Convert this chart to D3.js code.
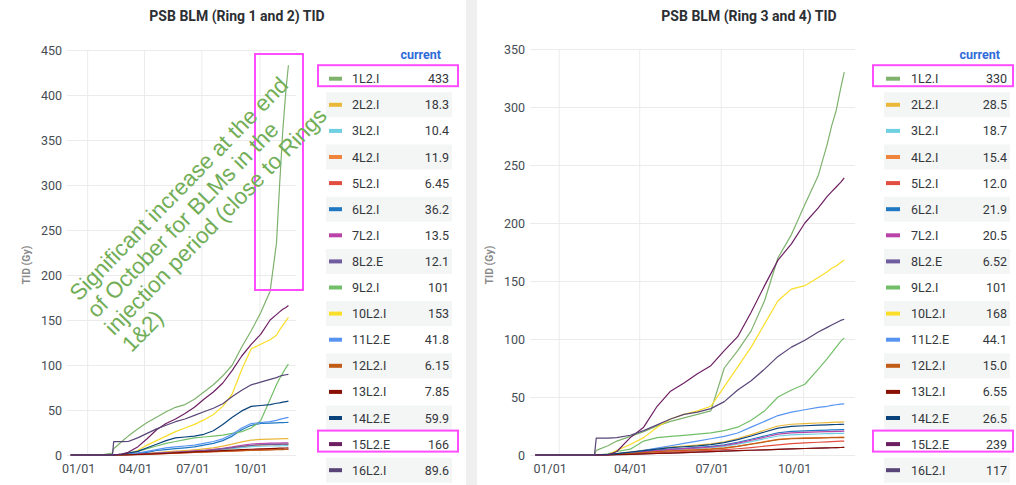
<!DOCTYPE html>
<html>
<head>
<meta charset="utf-8">
<script src="https://cdn.jsdelivr.net/npm/d3@7"></script>
<style>
  html, body { margin: 0; padding: 0; background: #ffffff; }
  svg { display: block; font-family: Roboto, "Liberation Sans", Arial, sans-serif; }
</style>
</head>
<body>
<svg id="chart" width="1016" height="485"></svg>
<script>
// Sample dates shared by every BLM series
const sampleDates = ["2022-12-06","2023-01-01","2023-01-21","2023-02-10","2023-02-12","2023-02-25","2023-03-07",
  "2023-03-22","2023-04-06","2023-04-21","2023-05-06","2023-05-21","2023-06-05","2023-06-20","2023-07-05",
  "2023-07-20","2023-08-04","2023-08-19","2023-09-03","2023-09-18","2023-10-03","2023-10-18","2023-10-28",
  "2023-11-02","2023-11-07","2023-11-12","2023-11-16"];

const timeRange = ["2022-11-30", "2023-11-28"];
const dateTicks = ["2023-01-01", "2023-04-01", "2023-07-01", "2023-10-01"];

const monitorNames = ["1L2.I","2L2.I","3L2.I","4L2.I","5L2.I","6L2.I","7L2.I","8L2.E",
  "9L2.I","10L2.I","11L2.E","12L2.I","13L2.I","14L2.E","15L2.E","16L2.I"];
const monitorColors = ["#7eb26d","#eab839","#6ed0e0","#ef843c","#e24d42","#1f78c1","#ba43a9","#705da0",
  "#73bf69","#fade2a","#5794f2","#c15c17","#890f02","#0a437c","#6d1f62","#584477"];
const highlighted = ["1L2.I", "15L2.E"];

// Ring 1 and 2 — accumulated dose (Gy)
const r12_1L2I  = [0,0,0,2,7,15,21,29,36,42,48,53,56,62,70,78,88,100,120,138,158,182,235,300,360,405,433];
const r12_2L2I  = [0,0,0,0,0,0.2,0.5,1,1.8,2.6,3.4,4.2,5,5.8,6.8,8,9.8,12,14.5,16.5,17.3,17.7,17.9,18,18.1,18.2,18.3];
const r12_3L2I  = [0,0,0,0,0,0.1,0.3,0.6,1,1.5,2,2.5,3,3.5,4.1,4.8,5.8,7,8.3,9.3,9.8,10,10.1,10.2,10.3,10.35,10.4];
const r12_4L2I  = [0,0,0,0,0,0.1,0.4,0.8,1.3,1.8,2.4,3,3.5,4.1,4.8,5.6,6.8,8.2,9.6,10.7,11.2,11.5,11.6,11.7,11.8,11.85,11.9];
const r12_5L2I  = [0,0,0,0,0,0.1,0.3,0.6,0.9,1.3,1.7,2.1,2.5,2.9,3.3,3.7,4.1,4.5,4.9,5.3,5.6,5.9,6.1,6.2,6.3,6.4,6.45];
const r12_6L2I  = [0,0,0,0,0,0,1,2,3,5,6,7,8,9,11,13,16,21,28,33,35,35.5,35.8,36,36,36.1,36.2];
const r12_7L2I  = [0,0,0,0,0,0.2,0.5,0.9,1.5,2.1,2.7,3.3,3.9,4.5,5.3,6.2,7.5,9,10.8,12.2,12.8,13.1,13.2,13.3,13.4,13.45,13.5];
const r12_8L2E  = [0,0,0,0,0,0.1,0.4,0.8,1.3,1.8,2.4,3,3.5,4,4.7,5.5,6.7,8.1,9.6,10.8,11.4,11.7,11.8,11.9,12,12.05,12.1];
const r12_9L2I  = [0,0,0,0,0,1,2,4,7,10,13,15,17,19,20,21,22,24,26,30,38,62,78,85,91,97,101];
const r12_10L2I = [0,0,0,0,0,0,1,5,11,16,21,26,30,34,39,45,54,68,95,118,123,128,133,139,144,149,153];
const r12_11L2E = [0,0,0,0,0,0,1,2,4,6,8,9,10,11,13,15,18,23,30,35,36,37,38.5,39.5,40.5,41.2,41.8];
const r12_12L2I = [0,0,0,0,0,0.1,0.3,0.5,0.8,1.2,1.6,2,2.4,2.8,3.2,3.6,4,4.4,4.8,5.2,5.5,5.8,5.95,6,6.05,6.1,6.15];
const r12_13L2I = [0,0,0,0,0,0.1,0.3,0.6,1,1.4,1.9,2.4,2.9,3.4,3.9,4.4,4.9,5.4,5.9,6.4,6.8,7.2,7.4,7.55,7.65,7.75,7.85];
const r12_14L2E = [0,0,0,0,0,1,2,4,8,12,16,19,20,21,23,27,34,42,49,54,55,56,57.5,58,58.8,59.4,59.9];
const r12_15L2E = [0,0,0,0,0,1,3,9,18,28,35,40,46,53,62,70,80,94,110,123,134,150,156,159,162,164,166];
const r12_16L2I = [0,0,0,0,14.8,14.8,15,19,24,29,33,37,40,44,48,52,57,65,72,78,81,84,86,87.5,88.5,89.2,89.6];

// Ring 3 and 4 — accumulated dose (Gy)
const r34_1L2I  = [0,0,0,0,4,8,12,16,20,25,29,32,35,38,75,90,107,133,170,190,216,241,268,284,297,316,330];
const r34_2L2I  = [0,0,0,0,0,0.5,1.3,2.6,4,5.5,6.8,7.6,8.5,9.6,11.4,14.2,17.6,21.3,25,26.5,27.1,27.6,27.9,28.1,28.3,28.4,28.5];
const r34_3L2I  = [0,0,0,0,0,0.4,0.9,1.8,2.7,3.6,4.4,5,5.6,6.3,7.5,9.3,11.6,14,16.4,17.4,17.8,18.1,18.4,18.5,18.6,18.65,18.7];
const r34_4L2I  = [0,0,0,0,0,0.3,0.8,1.5,2.2,3,3.6,4.1,4.6,5.2,6.2,7.7,9.5,11.5,13.5,14.3,14.7,14.9,15.1,15.2,15.3,15.35,15.4];
const r34_5L2I  = [0,0,0,0,0,0.2,0.5,1,1.5,2,2.5,3,3.5,4,4.6,5.4,6.4,7.6,8.8,9.8,10.5,11,11.4,11.6,11.8,11.9,12];
const r34_6L2I  = [0,0,0,0,0,0.4,1,2,3.1,4.2,5.1,5.8,6.5,7.4,8.8,11,13.6,16.4,19.2,20.3,20.8,21.2,21.5,21.6,21.7,21.8,21.9];
const r34_7L2I  = [0,0,0,0,0,0.4,1,1.9,2.9,3.9,4.8,5.5,6.1,6.9,8.2,10.2,12.7,15.3,18,19,19.5,19.9,20.1,20.2,20.3,20.4,20.5];
const r34_8L2E  = [0,0,0,0,0,0.1,0.3,0.6,0.9,1.3,1.7,2.1,2.5,2.9,3.3,3.7,4.1,4.5,4.9,5.3,5.6,5.9,6.1,6.25,6.35,6.45,6.52];
const r34_9L2I  = [0,0,0,0,0,1,3,5,12,15,16,17,18,19,21,24,30,38,50,56,61,74,83,88,93,98,101];
const r34_10L2I = [0,0,0,0,0,0,4,9,15,24,31,35,38,42,59,76,93,113,133,143,146,153,158,161,163,166,168];
const r34_11L2E = [0,0,0,0,0,0,1,2,4,6,8,10,12,14,16,19,24,29,34,37,39,41,42,42.8,43.3,43.8,44.1];
const r34_12L2I = [0,0,0,0,0,0.3,0.7,1.4,2.1,2.9,3.5,4,4.5,5.1,6,7.5,9.3,11.2,13.2,14,14.3,14.6,14.8,14.9,14.95,15,15];
const r34_13L2I = [0,0,0,0,0,0.1,0.3,0.6,0.9,1.3,1.7,2.1,2.5,2.9,3.3,3.7,4.1,4.5,4.9,5.3,5.6,5.9,6.1,6.25,6.38,6.48,6.55];
const r34_14L2E = [0,0,0,0,0,0.5,1.2,2.5,3.8,5.1,6.3,7.1,7.9,9,10.6,13.2,16.4,19.8,23.2,24.6,25.2,25.7,26,26.2,26.3,26.4,26.5];
const r34_15L2E = [0,0,0,0,0,0,3,15,24,42,55,62,70,77,90,102,123,146,168,182,200,213,223,227,231,235,239];
const r34_16L2I = [0,0,0,0,14.5,14.5,15,17,21,26,31,35,37,40,46,56,64,74,85,93,99,106,110,112,114,116,117];

const yTicksRing12 = [0,50,100,150,200,250,300,350,400,450];
const yTicksRing34 = [0,50,100,150,200,250,300,350];

const noteLines = ["Significant increase at the end", "of October for BLMs in the",
  "injection period (close to Rings", "1&2)"];

// ---------------------------------------------------------------------------
const parseDay = d3.utcParse("%Y-%m-%d");
const dates = sampleDates.map(parseDay);
const fmtTick = d3.utcFormat("%m/%d");
const fmtCurrent = d3.format(".3r");
const svg = d3.select("#chart");

// panel separator
svg.append("rect").attr("x", 466).attr("y", 0).attr("width", 11).attr("height", 485).attr("fill", "#efefef");

const panels = [
  {
    title: "PSB BLM (Ring 1 and 2) TID",
    series: [r12_1L2I, r12_2L2I, r12_3L2I, r12_4L2I, r12_5L2I, r12_6L2I, r12_7L2I, r12_8L2E,
             r12_9L2I, r12_10L2I, r12_11L2E, r12_12L2I, r12_13L2I, r12_14L2E, r12_15L2E, r12_16L2I],
    yTicks: yTicksRing12,
    L: { x0: 67, x1: 296, top: 50, bottom: 455, titleX: 237, axisTitleX: 30,
         swatchX: 329, swatchW: 13, nameX: 352, valueX: 449, headX: 441,
         bandX0: 326, bandX1: 452, boxX0: 318, boxX1: 458 }
  },
  {
    title: "PSB BLM (Ring 3 and 4) TID",
    series: [r34_1L2I, r34_2L2I, r34_3L2I, r34_4L2I, r34_5L2I, r34_6L2I, r34_7L2I, r34_8L2E,
             r34_9L2I, r34_10L2I, r34_11L2E, r34_12L2I, r34_13L2I, r34_14L2E, r34_15L2E, r34_16L2I],
    yTicks: yTicksRing34,
    L: { x0: 530, x1: 855, top: 49, bottom: 455, titleX: 749, axisTitleX: 493,
         swatchX: 886, swatchW: 14, nameX: 911, valueX: 1007, headX: 1000,
         bandX0: 884, bandX1: 1010, boxX0: 873, boxX1: 1013 }
  }
];

panels.forEach(p => {
  const L = p.L;
  const g = svg.append("g");

  const x = d3.scaleUtc().domain(timeRange.map(parseDay)).range([L.x0, L.x1]);
  const y = d3.scaleLinear().domain([0, d3.max(p.yTicks)]).range([L.bottom, L.top]);

  // title
  g.append("text").attr("x", L.titleX).attr("y", 21).attr("text-anchor", "middle")
    .attr("font-size", 14).attr("font-weight", 700).attr("fill", "#2c2f33").text(p.title);

  // y axis with horizontal grid
  const yAxis = g.append("g").attr("transform", `translate(${L.x0},0)`)
    .call(d3.axisLeft(y).tickValues(p.yTicks).tickSizeInner(-(L.x1 - L.x0)).tickSizeOuter(0).tickPadding(5));
  yAxis.select(".domain").remove();
  yAxis.selectAll(".tick line").attr("stroke", "#ebebeb");
  yAxis.selectAll(".tick text").attr("font-size", 12.5).attr("fill", "#464c54")
    .attr("font-family", "Roboto, sans-serif");

  // x axis with vertical grid
  const xAxis = g.append("g").attr("transform", `translate(0,${L.bottom})`)
    .call(d3.axisBottom(x).tickValues(dateTicks.map(parseDay)).tickFormat(fmtTick)
      .tickSizeInner(-(L.bottom - L.top)).tickSizeOuter(0).tickPadding(9));
  xAxis.select(".domain").remove();
  xAxis.selectAll(".tick line").attr("stroke", "#ebebeb");
  xAxis.selectAll(".tick text").attr("font-size", 12.5).attr("fill", "#464c54").attr("dx", -9)
    .attr("font-family", "Roboto, sans-serif");

  // axis title
  g.append("text")
    .attr("transform", `translate(${L.axisTitleX},265) rotate(-90)`)
    .attr("text-anchor", "middle").attr("font-size", 10.5).attr("font-weight", 700)
    .attr("fill", "#8a8a8a").text("TID (Gy)");

  // series lines
  const line = d3.line().x((d, i) => x(dates[i])).y(d => y(d));
  p.series.forEach((vals, k) => {
    g.append("path").datum(vals)
      .attr("d", line).attr("fill", "none")
      .attr("stroke", monitorColors[k]).attr("stroke-width", 1.2)
      .attr("stroke-linejoin", "round");
  });

  // legend table
  const rowY = i => 78.7 + i * 26.1;
  const lg = g.append("g");
  lg.append("text").attr("x", L.headX).attr("y", 59).attr("text-anchor", "end")
    .attr("font-size", 12.5).attr("font-weight", 700).attr("fill", "#2f6bd8").text("current");

  monitorNames.forEach((name, i) => {
    const cy = rowY(i);
    if (i % 2 === 1) {
      lg.append("rect").attr("x", L.bandX0).attr("y", cy - 12.5)
        .attr("width", L.bandX1 - L.bandX0).attr("height", 25).attr("fill", "#f4f5f5");
    }
    lg.append("rect").attr("x", L.swatchX).attr("y", cy - 2)
      .attr("width", L.swatchW).attr("height", 4).attr("fill", monitorColors[i]);
    lg.append("text").attr("x", L.nameX).attr("y", cy + 4.5)
      .attr("font-size", 12.5).attr("fill", "#34373c").text(name);
    const series = p.series[i];
    lg.append("text").attr("x", L.valueX).attr("y", cy + 4.5).attr("text-anchor", "end")
      .attr("font-size", 12.5).attr("fill", "#34373c").text(fmtCurrent(series[series.length - 1]));
    if (highlighted.includes(name)) {
      lg.append("rect").attr("x", L.boxX0).attr("y", cy - 13.5)
        .attr("width", L.boxX1 - L.boxX0).attr("height", 21)
        .attr("fill", "none").attr("stroke", "#ff4cff").attr("stroke-width", 2);
    }
  });
});

// end-of-October highlight on Ring 1 and 2
svg.append("rect").attr("x", 255).attr("y", 54).attr("width", 48).attr("height", 236)
  .attr("fill", "none").attr("stroke", "#ff4cff").attr("stroke-width", 2);

// note
const note = svg.append("text")
  .attr("transform", "translate(79,302) rotate(-45.7)")
  .attr("font-family", "'Liberation Sans', Arial, sans-serif")
  .attr("font-size", 22.5).attr("fill", "#72ae58");
noteLines.forEach((t, i) => {
  note.append("tspan").attr("x", 0).attr("dy", i === 0 ? 0 : 24.5).text(t);
});
</script>
</body>
</html>
